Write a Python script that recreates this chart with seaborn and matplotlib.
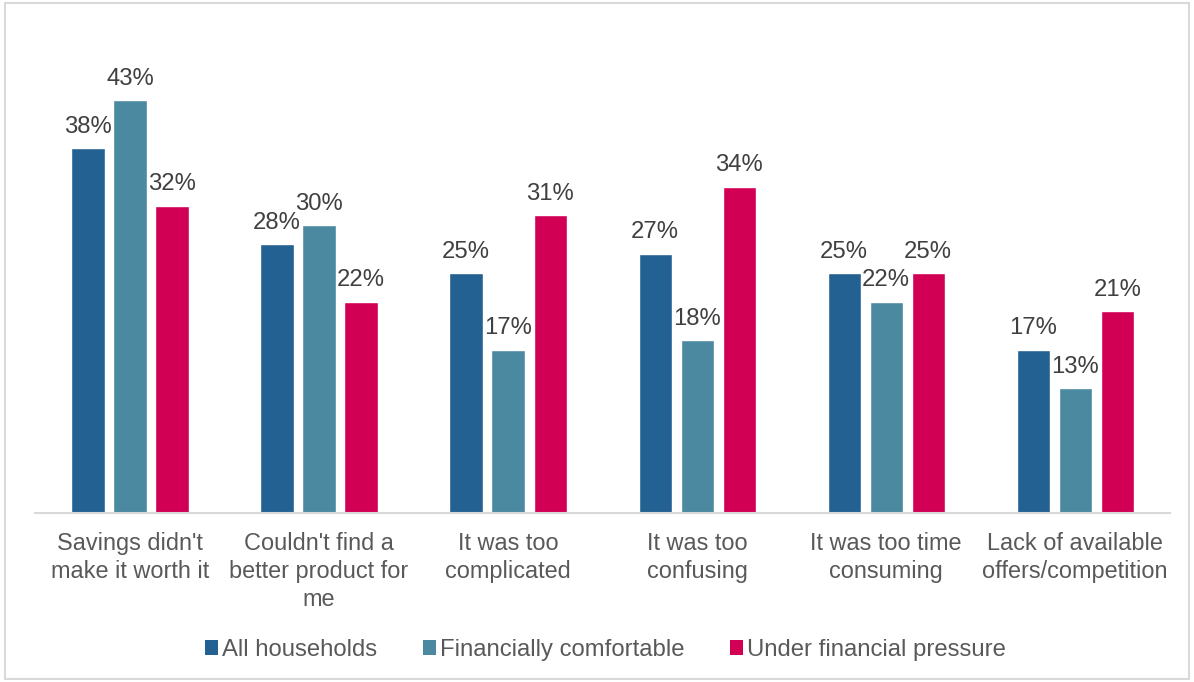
import numpy as np
import pandas as pd
import seaborn as sns
import matplotlib.pyplot as plt
from matplotlib.patches import Rectangle, Patch

# data
categories = ["Savings didn't\nmake it worth it",
              "Couldn't find a\nbetter product for\nme",
              "It was too\ncomplicated",
              "It was too\nconfusing",
              "It was too time\nconsuming",
              "Lack of available\noffers/competition"]
groups = ["All households", "Financially comfortable", "Under financial pressure"]
all_households = [38, 28, 25, 27, 25, 17]
comfortable = [43, 30, 17, 18, 22, 13]
pressure = [32, 22, 31, 34, 25, 21]
colors = ["#236192", "#4A89A0", "#D20055"]

rows = []
for g, vals in zip(groups, [all_households, comfortable, pressure]):
    for c, v in zip(categories, vals):
        rows.append({"category": c, "group": g, "value": v})
df = pd.DataFrame(rows)

sns.set_style("white")
plt.rcParams['font.family'] = ['Liberation Sans', 'DejaVu Sans']

fig = plt.figure(figsize=(11.94, 6.82), dpi=100)
ax = fig.add_axes([0.0297, 0.2478, 0.95, 0.7038])

sns.barplot(data=df, x="category", y="value", hue="group", order=categories,
            hue_order=groups, palette=colors, width=0.667, gap=0.21,
            saturation=1, ax=ax, legend=False)

for cont in ax.containers:
    ax.bar_label(cont, labels=[f"{int(round(v))}%" for v in cont.datavalues],
                 padding=7.5, fontsize=17.2, color="#404040")

ax.set_ylim(0, 50)
ax.set_xlim(-0.5, len(categories) - 0.5)
ax.set_xlabel("")
ax.set_ylabel("")
ax.set_yticks([])
ax.tick_params(axis="x", length=0, pad=14, labelsize=16.9, labelcolor="#595959")
for lbl in ax.get_xticklabels():
    lbl.set_linespacing(1.27)
for s in ["top", "right", "left"]:
    ax.spines[s].set_visible(False)
ax.spines["bottom"].set_color("#D9D9D9")
ax.spines["bottom"].set_linewidth(1.5)

handles = [Patch(facecolor=c, edgecolor="none") for c in colors]
fig.legend(handles, groups, loc="center", bbox_to_anchor=(0.507, 0.047), ncol=3,
           frameon=False, fontsize=17.2, labelcolor="#595959",
           handlelength=0.54, handleheight=0.54, handletextpad=0.17,
           columnspacing=1.9)

fig.patches.append(Rectangle((0.004, 0.005), 0.992, 0.99, transform=fig.transFigure,
                             fill=False, edgecolor="#D9D9D9", linewidth=1.5))

fig.savefig("out.png", dpi=100)
